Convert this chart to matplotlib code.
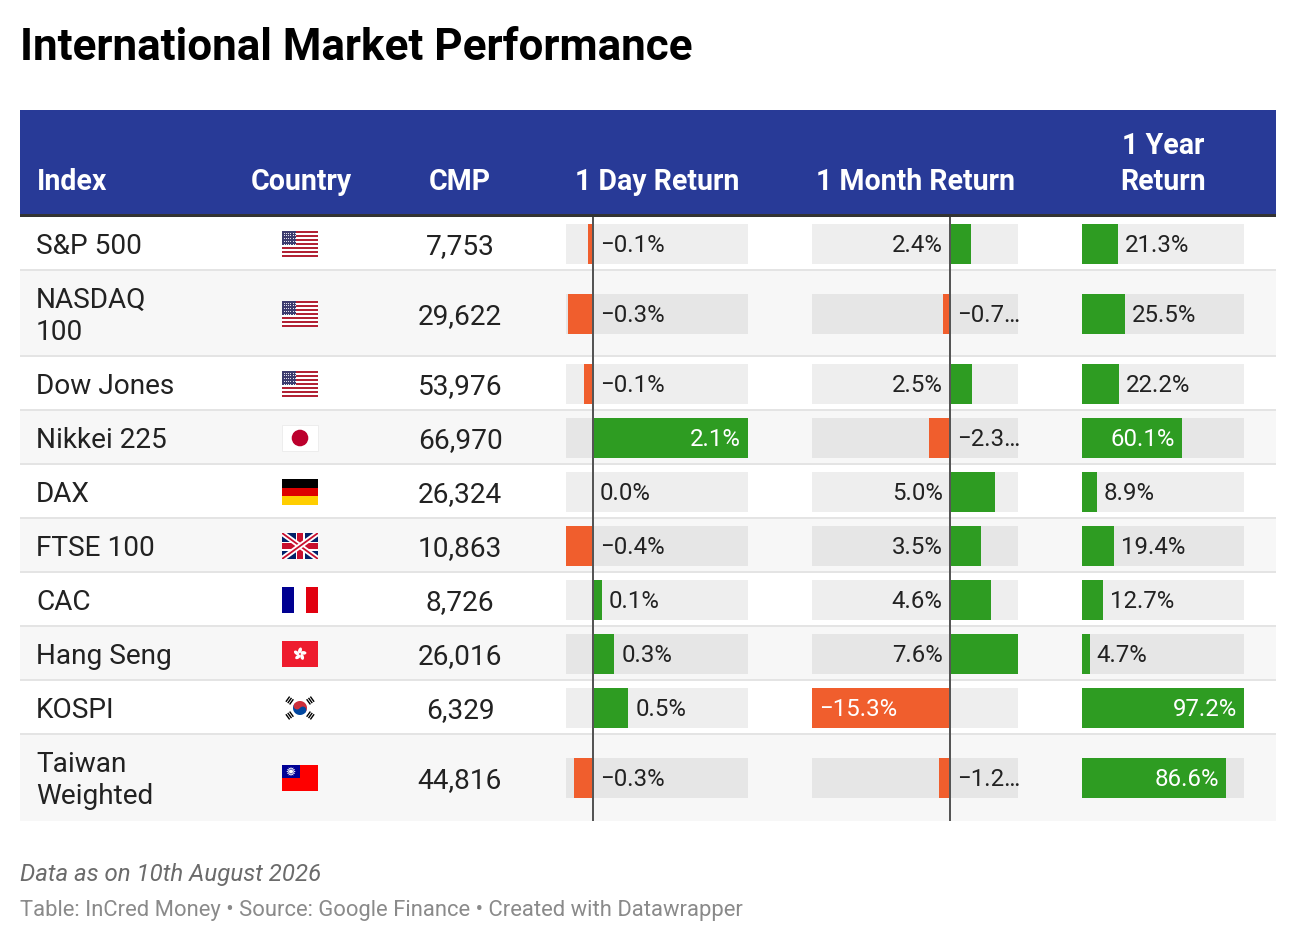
import matplotlib
matplotlib.use("Agg")
import numpy as np
import matplotlib.pyplot as plt
from matplotlib.patches import Rectangle, Circle, Ellipse, Polygon

plt.rcParams['font.family'] = ['Roboto', 'DejaVu Sans']

# ---- data ----
title = "International Market Performance"
headers = ["Index", "Country", "CMP", "1 Day Return", "1 Month Return", "1 Year\nReturn"]
indices = ["S&P 500", "NASDAQ\n100", "Dow Jones", "Nikkei 225", "DAX", "FTSE 100",
           "CAC", "Hang Seng", "KOSPI", "Taiwan\nWeighted"]
countries = ["us", "us", "us", "jp", "de", "gb", "fr", "hk", "kr", "tw"]
cmp_values = [7753, 29622, 53976, 66970, 26324, 10863, 8726, 26016, 6329, 44816]
day_return = [-0.07, -0.34, -0.12, 2.12, 0.0, -0.37, 0.12, 0.29, 0.48, -0.26]
month_return = [2.4, -0.7, 2.5, -2.3, 5.0, 3.5, 4.6, 7.6, -15.3, -1.2]
year_return = [21.3, 25.5, 22.2, 60.1, 8.9, 19.4, 12.7, 4.7, 97.2, 86.6]
note = "Data as on 10th August 2026"
credit = "Table: InCred Money • Source: Google Finance • Created with Datawrapper"

GREEN = "#2e9c22"
ORANGE = "#f05e2d"
HEADER_BG = "#283a97"
TEXT = "#222222"
PT = 0.72  # pixel -> point at dpi 100
BODY = 28
LBL = 24

W, H = 1296, 944
fig = plt.figure(figsize=(W / 100, H / 100), dpi=100)
ax = fig.add_axes([0, 0, 1, 1])
ax.set_xlim(0, W)
ax.set_ylim(H, 0)
ax.axis('off')
renderer = fig.canvas.get_renderer()


def text_width(s, size, **kw):
    t = ax.text(0, 0, s, fontsize=size * PT, **kw)
    w = t.get_window_extent(renderer).width
    t.remove()
    return w


# title
ax.text(20, 60, title, fontsize=44 * PT, fontweight='bold', color='black', va='baseline')

# table geometry
L, R = 20, 1276
day_x = (566, 748)
month_x = (812, 1018)
year_x = (1082, 1244)
col_center = [37, 301, 460, sum(day_x) / 2, sum(month_x) / 2, sum(year_x) / 2]

# header band
ax.add_patch(Rectangle((L, 110), R - L, 104, color=HEADER_BG, lw=0))
ax.add_patch(Rectangle((L, 214), R - L, 3, color='#333333', lw=0))
for i, hd in enumerate(headers):
    lines = hd.split("\n")
    for k, line in enumerate(reversed(lines)):
        ax.text(col_center[i], 190 - 36 * k, line, fontsize=28.5 * PT, fontweight='bold',
                color='white', va='baseline', ha='left' if i == 0 else 'center')

# rows
rows = []
y = 217
for name in indices:
    n = name.count("\n") + 1
    h = 54 + (n - 1) * 32
    rows.append((y, h))
    y += h
table_bottom = y

for i, (yt, h) in enumerate(rows):
    ax.add_patch(Rectangle((L, yt), R - L, h, color='#f7f7f7' if i % 2 else 'white', lw=0))
    if i > 0:
        ax.add_patch(Rectangle((L, yt - 2), R - L, 2, color='#e4e4e4', lw=0))


# ---- flags ----
def flag_us(x, y, w, h):
    for k in range(13):
        ax.add_patch(Rectangle((x, y + k * h / 13), w, h / 13,
                               color='#b22234' if k % 2 == 0 else 'white', lw=0))
    ax.add_patch(Rectangle((x, y), w * 0.4, h * 7 / 13, color='#3c3b6e', lw=0))
    xs, ys = np.meshgrid(np.linspace(x + 1.5, x + w * 0.4 - 1.5, 6),
                         np.linspace(y + 1.5, y + h * 7 / 13 - 1.5, 5))
    ax.scatter(xs.ravel(), ys.ravel(), s=0.6, color='white', lw=0, zorder=3)


def flag_jp(x, y, w, h):
    ax.add_patch(Rectangle((x, y), w, h, facecolor='white', edgecolor='#e8e8e8', lw=0.5))
    ax.add_patch(Circle((x + w / 2, y + h / 2), 8.3, color='#bc002d', lw=0))


def flag_stripes(x, y, w, h, colors, vertical=False):
    n = len(colors)
    for k, c in enumerate(colors):
        if vertical:
            ax.add_patch(Rectangle((x + k * w / n, y), w / n, h, color=c, lw=0))
        else:
            ax.add_patch(Rectangle((x, y + k * h / n), w, h / n, color=c, lw=0))


def flag_gb(x, y, w, h):
    bg = Rectangle((x, y), w, h, color='#012169', lw=0)
    ax.add_patch(bg)
    for xa, ya, xb, yb in [(x, y, x + w, y + h), (x, y + h, x + w, y)]:
        l1, = ax.plot([xa, xb], [ya, yb], color='white', lw=5.5 * PT, solid_capstyle='butt')
        l1.set_clip_path(bg)
        l2, = ax.plot([xa, xb], [ya, yb], color='#c8102e', lw=1.8 * PT, solid_capstyle='butt')
        l2.set_clip_path(bg)
    ax.add_patch(Rectangle((x, y + h / 2 - 4.5), w, 9, color='white', lw=0))
    ax.add_patch(Rectangle((x + w / 2 - 4.5, y), 9, h, color='white', lw=0))
    ax.add_patch(Rectangle((x, y + h / 2 - 2.6), w, 5.2, color='#c8102e', lw=0))
    ax.add_patch(Rectangle((x + w / 2 - 2.6, y), 5.2, h, color='#c8102e', lw=0))


def flag_hk(x, y, w, h):
    ax.add_patch(Rectangle((x, y), w, h, color='#ee1c2e', lw=0))
    cx, cy = x + w / 2, y + h / 2
    for k in range(5):
        a = np.radians(-90 + 72 * k)
        ax.add_patch(Ellipse((cx + 3.6 * np.cos(a), cy + 3.6 * np.sin(a)), 6, 3.6,
                             angle=np.degrees(a) + 20, color='white', lw=0))


def flag_kr(x, y, w, h):
    cx, cy = x + w / 2, y + h / 2
    a = np.arctan2(h, w)
    u = np.array([-np.cos(a), -np.sin(a)])   # towards top-left
    n = np.array([np.sin(a), -np.cos(a)])    # towards top-right
    c = np.array([cx, cy])
    r = 7.0
    t = np.linspace(0, np.pi, 40)
    red = [c + r * (np.cos(s) * u + np.sin(s) * n) for s in t]
    blue = [c + r * (np.cos(s) * u - np.sin(s) * n) for s in t]
    ax.add_patch(Polygon(red, color='#cd2e3a', lw=0))
    ax.add_patch(Polygon(blue, color='#0047a0', lw=0))
    ax.add_patch(Circle(c + r / 2 * u, r / 2, color='#cd2e3a', lw=0))
    ax.add_patch(Circle(c - r / 2 * u, r / 2, color='#0047a0', lw=0))
    u2 = np.array([np.cos(a), -np.sin(a)])
    for d in [u, -u, u2, -u2]:
        p = np.array([-d[1], d[0]])
        for k in range(3):
            m = c + d * (10.5 + 2.3 * k)
            e1, e2 = m - 3.2 * p, m + 3.2 * p
            ax.plot([e1[0], e2[0]], [e1[1], e2[1]], color='black', lw=1.4 * PT,
                    solid_capstyle='butt')


def flag_tw(x, y, w, h):
    ax.add_patch(Rectangle((x, y), w, h, color='#fe0000', lw=0))
    ax.add_patch(Rectangle((x, y), w / 2, h / 2, color='#000095', lw=0))
    cx, cy = x + w / 4, y + h / 4
    ang = np.linspace(0, 2 * np.pi, 25)[:-1]
    rad = np.where(np.arange(24) % 2 == 0, 4.8, 2.9)
    ax.add_patch(Polygon(np.c_[cx + rad * np.cos(ang), cy + rad * np.sin(ang)], color='white', lw=0))
    ax.add_patch(Circle((cx, cy), 2.5, color='#000095', lw=0))
    ax.add_patch(Circle((cx, cy), 2.0, color='white', lw=0))


def draw_flag(code, cx, cy, w=36, h=26):
    x, y = cx - w / 2, cy - h / 2
    if code == "us":
        flag_us(x, y, w, h)
    elif code == "jp":
        flag_jp(x, y, w, h)
    elif code == "de":
        flag_stripes(x, y, w, h, ['#000000', '#dd0000', '#ffce00'])
    elif code == "fr":
        flag_stripes(x, y, w, h, ['#000091', 'white', '#e1000f'], vertical=True)
    elif code == "gb":
        flag_gb(x, y, w, h)
    elif code == "hk":
        flag_hk(x, y, w, h)
    elif code == "kr":
        flag_kr(x, y, w, h)
    elif code == "tw":
        flag_tw(x, y, w, h)


# text columns
for i, (yt, h) in enumerate(rows):
    cy = yt + h / 2
    lines = indices[i].split("\n")
    y0 = cy - 16 * (len(lines) - 1)
    for k, line in enumerate(lines):
        ax.text(36, y0 + 32 * k + 10, line, fontsize=BODY * PT, color=TEXT, va='baseline')
    draw_flag(countries[i], col_center[1] - 1, cy)
    ax.text(col_center[2], cy + 10, f"{cmp_values[i]:,}", fontsize=BODY * PT,
            color=TEXT, va='baseline', ha='center')


# ---- bar columns ----
def fmt(v):
    return f"{v:.1f}%".replace("-", "\u2212")


def bar_column(vals, x0, x1):
    lo, hi = min(0, min(vals)), max(0, max(vals))

    def sx(v):
        return x0 + (v - lo) / (hi - lo) * (x1 - x0)

    zx = sx(0)
    pad = 7
    for i, v in enumerate(vals):
        yt, h = rows[i]
        cy = yt + h / 2
        ax.add_patch(Rectangle((x0, cy - 20), x1 - x0, 40,
                               color='#e6e6e6' if i % 2 else '#eeeeee', lw=0))
        bx = sx(v)
        ax.add_patch(Rectangle((min(zx, bx), cy - 20), abs(bx - zx), 40,
                               color=GREEN if v >= 0 else ORANGE, lw=0))
        label = fmt(v)
        w = text_width(label, LBL)
        color, ha = TEXT, 'left'
        if abs(bx - zx) >= w + 2 * pad + 10:
            color = 'white'
            if v >= 0:
                x, ha = bx - pad, 'right'
            else:
                x = bx + pad
        elif v < 0 or x1 - bx - pad >= w + 2:
            x = max(zx, bx) + pad
            if w > x1 - x - 1:
                # cut the label like a css ellipsis
                s = label
                while s and text_width(s + "\u2026", LBL) > x1 - x + 6:
                    s = s[:-1]
                label = s + "\u2026"
        else:
            x, ha = zx - pad, 'right'
        ax.text(x, cy + 8.5, label, fontsize=LBL * PT, color=color, ha=ha, va='baseline')
    if lo < 0:
        ax.plot([zx, zx], [217, table_bottom], color='#555555', lw=2 * PT, solid_capstyle='butt')


bar_column(day_return, *day_x)
bar_column(month_return, *month_x)
bar_column(year_return, *year_x)

# footer
ax.text(20, 881, note, fontsize=24 * PT, style='italic', color='#6b6b6b', va='baseline')
ax.text(20, 916, credit, fontsize=22 * PT, color='#8a8a8a', va='baseline')

ax.set_xlim(0, W)
ax.set_ylim(H, 0)
fig.savefig("out.png", dpi=100)
